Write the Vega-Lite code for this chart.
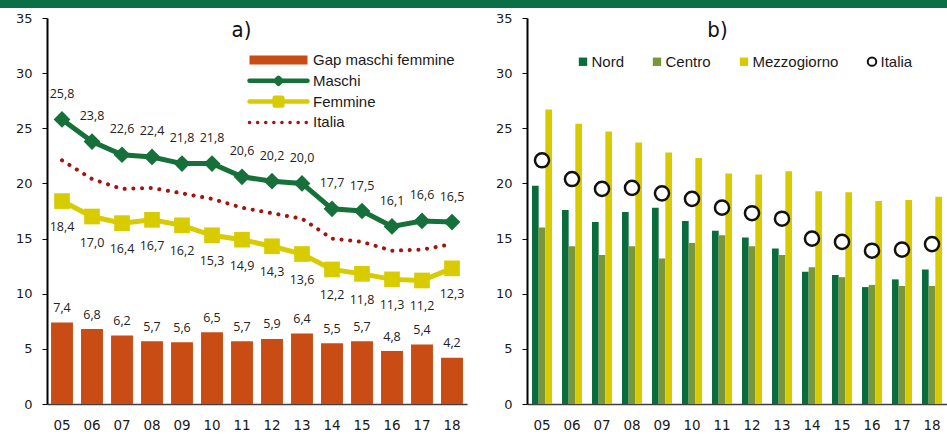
{
  "$schema": "https://vega.github.io/schema/vega-lite/v6.json",
  "padding": 0,
  "background": "white",
  "spacing": 4,
  "columns": 1,
  "align": "none",
  "config": {
    "view": {"stroke": null},
    "locale": {"number": {"decimal": ",", "thousands": ".", "grouping": [3], "currency": ["", " €"]}},
    "axisY": {"domain": true, "domainColor": "#000", "domainWidth": 2, "ticks": true, "tickColor": "#000", "tickSize": 5, "tickWidth": 1, "labelPadding": 10, "labelFont": "DejaVu Sans", "labelFontSize": 13, "labelColor": "#1a1a1a", "grid": false, "minExtent": 47, "values": [0, 5, 10, 15, 20, 25, 30, 35], "titleAngle": 0, "titleAlign": "center", "titleBaseline": "alphabetic", "titleFont": "Liberation Sans Narrow, DejaVu Sans Condensed, sans-serif", "titleFontSize": 22, "titleFontWeight": "normal", "titleColor": "#111", "titleY": 18},
    "axisX": {"domain": true, "domainColor": "#404040", "domainWidth": 1.5, "ticks": false, "tickSize": 0, "labelPadding": 14, "labelFont": "DejaVu Sans", "labelFontSize": 13.5, "labelColor": "#1a1a1a", "labelAngle": 0, "grid": false, "title": null}
  },
  "datasets": {
    "a": [
      {"anno": "05", "serie": "Gap maschi femmine", "valore": 7.4},
      {"anno": "06", "serie": "Gap maschi femmine", "valore": 6.8},
      {"anno": "07", "serie": "Gap maschi femmine", "valore": 6.2},
      {"anno": "08", "serie": "Gap maschi femmine", "valore": 5.7},
      {"anno": "09", "serie": "Gap maschi femmine", "valore": 5.6},
      {"anno": "10", "serie": "Gap maschi femmine", "valore": 6.5},
      {"anno": "11", "serie": "Gap maschi femmine", "valore": 5.7},
      {"anno": "12", "serie": "Gap maschi femmine", "valore": 5.9},
      {"anno": "13", "serie": "Gap maschi femmine", "valore": 6.4},
      {"anno": "14", "serie": "Gap maschi femmine", "valore": 5.5},
      {"anno": "15", "serie": "Gap maschi femmine", "valore": 5.7},
      {"anno": "16", "serie": "Gap maschi femmine", "valore": 4.8},
      {"anno": "17", "serie": "Gap maschi femmine", "valore": 5.4},
      {"anno": "18", "serie": "Gap maschi femmine", "valore": 4.2},
      {"anno": "05", "serie": "Maschi", "valore": 25.8},
      {"anno": "06", "serie": "Maschi", "valore": 23.8},
      {"anno": "07", "serie": "Maschi", "valore": 22.6},
      {"anno": "08", "serie": "Maschi", "valore": 22.4},
      {"anno": "09", "serie": "Maschi", "valore": 21.8},
      {"anno": "10", "serie": "Maschi", "valore": 21.8},
      {"anno": "11", "serie": "Maschi", "valore": 20.6},
      {"anno": "12", "serie": "Maschi", "valore": 20.2},
      {"anno": "13", "serie": "Maschi", "valore": 20.0},
      {"anno": "14", "serie": "Maschi", "valore": 17.7},
      {"anno": "15", "serie": "Maschi", "valore": 17.5},
      {"anno": "16", "serie": "Maschi", "valore": 16.1},
      {"anno": "17", "serie": "Maschi", "valore": 16.6},
      {"anno": "18", "serie": "Maschi", "valore": 16.5},
      {"anno": "05", "serie": "Femmine", "valore": 18.4},
      {"anno": "06", "serie": "Femmine", "valore": 17.0},
      {"anno": "07", "serie": "Femmine", "valore": 16.4},
      {"anno": "08", "serie": "Femmine", "valore": 16.7},
      {"anno": "09", "serie": "Femmine", "valore": 16.2},
      {"anno": "10", "serie": "Femmine", "valore": 15.3},
      {"anno": "11", "serie": "Femmine", "valore": 14.9},
      {"anno": "12", "serie": "Femmine", "valore": 14.3},
      {"anno": "13", "serie": "Femmine", "valore": 13.6},
      {"anno": "14", "serie": "Femmine", "valore": 12.2},
      {"anno": "15", "serie": "Femmine", "valore": 11.8},
      {"anno": "16", "serie": "Femmine", "valore": 11.3},
      {"anno": "17", "serie": "Femmine", "valore": 11.2},
      {"anno": "18", "serie": "Femmine", "valore": 12.3},
      {"anno": "05", "serie": "Italia", "valore": 22.1},
      {"anno": "06", "serie": "Italia", "valore": 20.4},
      {"anno": "07", "serie": "Italia", "valore": 19.5},
      {"anno": "08", "serie": "Italia", "valore": 19.6},
      {"anno": "09", "serie": "Italia", "valore": 19.1},
      {"anno": "10", "serie": "Italia", "valore": 18.6},
      {"anno": "11", "serie": "Italia", "valore": 17.8},
      {"anno": "12", "serie": "Italia", "valore": 17.3},
      {"anno": "13", "serie": "Italia", "valore": 16.8},
      {"anno": "14", "serie": "Italia", "valore": 15.0},
      {"anno": "15", "serie": "Italia", "valore": 14.7},
      {"anno": "16", "serie": "Italia", "valore": 13.9},
      {"anno": "17", "serie": "Italia", "valore": 14.0},
      {"anno": "18", "serie": "Italia", "valore": 14.5}
    ],
    "b": [
      {"anno": "05", "area": "Nord", "valore": 19.8},
      {"anno": "06", "area": "Nord", "valore": 17.6},
      {"anno": "07", "area": "Nord", "valore": 16.5},
      {"anno": "08", "area": "Nord", "valore": 17.4},
      {"anno": "09", "area": "Nord", "valore": 17.8},
      {"anno": "10", "area": "Nord", "valore": 16.6},
      {"anno": "11", "area": "Nord", "valore": 15.7},
      {"anno": "12", "area": "Nord", "valore": 15.1},
      {"anno": "13", "area": "Nord", "valore": 14.1},
      {"anno": "14", "area": "Nord", "valore": 12.0},
      {"anno": "15", "area": "Nord", "valore": 11.7},
      {"anno": "16", "area": "Nord", "valore": 10.6},
      {"anno": "17", "area": "Nord", "valore": 11.3},
      {"anno": "18", "area": "Nord", "valore": 12.2},
      {"anno": "05", "area": "Centro", "valore": 16.0},
      {"anno": "06", "area": "Centro", "valore": 14.3},
      {"anno": "07", "area": "Centro", "valore": 13.5},
      {"anno": "08", "area": "Centro", "valore": 14.3},
      {"anno": "09", "area": "Centro", "valore": 13.2},
      {"anno": "10", "area": "Centro", "valore": 14.6},
      {"anno": "11", "area": "Centro", "valore": 15.3},
      {"anno": "12", "area": "Centro", "valore": 14.3},
      {"anno": "13", "area": "Centro", "valore": 13.5},
      {"anno": "14", "area": "Centro", "valore": 12.4},
      {"anno": "15", "area": "Centro", "valore": 11.5},
      {"anno": "16", "area": "Centro", "valore": 10.8},
      {"anno": "17", "area": "Centro", "valore": 10.7},
      {"anno": "18", "area": "Centro", "valore": 10.7},
      {"anno": "05", "area": "Mezzogiorno", "valore": 26.7},
      {"anno": "06", "area": "Mezzogiorno", "valore": 25.4},
      {"anno": "07", "area": "Mezzogiorno", "valore": 24.7},
      {"anno": "08", "area": "Mezzogiorno", "valore": 23.7},
      {"anno": "09", "area": "Mezzogiorno", "valore": 22.8},
      {"anno": "10", "area": "Mezzogiorno", "valore": 22.3},
      {"anno": "11", "area": "Mezzogiorno", "valore": 20.9},
      {"anno": "12", "area": "Mezzogiorno", "valore": 20.8},
      {"anno": "13", "area": "Mezzogiorno", "valore": 21.1},
      {"anno": "14", "area": "Mezzogiorno", "valore": 19.3},
      {"anno": "15", "area": "Mezzogiorno", "valore": 19.2},
      {"anno": "16", "area": "Mezzogiorno", "valore": 18.4},
      {"anno": "17", "area": "Mezzogiorno", "valore": 18.5},
      {"anno": "18", "area": "Mezzogiorno", "valore": 18.8},
      {"anno": "05", "area": "Italia", "valore": 22.1},
      {"anno": "06", "area": "Italia", "valore": 20.4},
      {"anno": "07", "area": "Italia", "valore": 19.5},
      {"anno": "08", "area": "Italia", "valore": 19.6},
      {"anno": "09", "area": "Italia", "valore": 19.1},
      {"anno": "10", "area": "Italia", "valore": 18.6},
      {"anno": "11", "area": "Italia", "valore": 17.8},
      {"anno": "12", "area": "Italia", "valore": 17.3},
      {"anno": "13", "area": "Italia", "valore": 16.8},
      {"anno": "14", "area": "Italia", "valore": 15.0},
      {"anno": "15", "area": "Italia", "valore": 14.7},
      {"anno": "16", "area": "Italia", "valore": 13.9},
      {"anno": "17", "area": "Italia", "valore": 14.0},
      {"anno": "18", "area": "Italia", "valore": 14.5}
    ],
    "header": [{"t": ""}]
  },
  "concat": [
    {
      "width": 900,
      "height": 8,
      "data": {"name": "header"},
      "mark": {"type": "rect", "color": "#0b6e44"},
      "encoding": {
        "x": {"datum": -47, "type": "quantitative", "scale": {"domain": [0, 900]}, "axis": null},
        "x2": {"datum": 900}
      }
    },
    {
      "hconcat": [
        {
          "width": 420,
          "height": 386,
          "data": {"name": "a"},
          "encoding": {
            "x": {"field": "anno", "type": "ordinal", "scale": {"paddingInner": 0.27, "paddingOuter": 0.135}},
            "y": {"field": "valore", "type": "quantitative", "scale": {"domain": [0, 35], "nice": false}, "axis": {"title": "a)", "titleX": 194}}
          },
          "layer": [
            {
              "transform": [{"filter": "datum.serie == 'Gap maschi femmine'"}],
              "mark": {"type": "bar", "opacity": 1},
              "encoding": {
                "color": {
                  "field": "serie", "type": "nominal",
                  "scale": {"domain": ["Gap maschi femmine", "Maschi", "Femmine", "Italia"], "range": ["#c84c14", "#157039", "#d8cb00", "#a3140f"]},
                  "legend": {
                    "orient": "none", "legendX": 224, "legendY": 34.5, "title": null,
                    "symbolSize": 400, "symbolStrokeWidth": 0, "labelOffset": 27, "rowPadding": 4.8,
                    "labelFont": "Liberation Sans", "labelFontSize": 15, "labelColor": "#1a1a1a", "labelLimit": 300,
                    "encoding": {
                      "symbols": {
                        "shape": {"value": {"expr": "datum.value == 'Gap maschi femmine' ? 'M-2.9,-0.45H2.9V0.45H-2.9Z' : datum.value == 'Maschi' ? 'M-2.9,0H2.9M0,-0.3L0.3,0L0,0.3L-0.3,0Z' : datum.value == 'Femmine' ? 'M-2.9,0H2.9M-0.38,-0.38H0.38V0.38H-0.38Z' : 'M-2.9,0H2.9'"}},
                        "strokeWidth": {"value": {"expr": "datum.value == 'Gap maschi femmine' ? 0 : datum.value == 'Italia' ? 3.5 : 4.5"}},
                        "strokeDash": {"value": {"expr": "datum.value == 'Italia' ? [0.1, 8] : [1, 0]"}},
                        "strokeCap": {"value": "round"},
                        "strokeJoin": {"value": "round"},
                        "opacity": {"value": 1}
                      }
                    }
                  }
                }
              }
            },
            {
              "transform": [{"filter": "datum.serie == 'Gap maschi femmine'"}],
              "mark": {"type": "text", "dy": -10.5, "baseline": "alphabetic", "font": "Open Sans", "fontSize": 12.5, "color": "#222"},
              "encoding": {"text": {"field": "valore", "type": "quantitative", "format": ".1f"}}
            },
            {
              "transform": [{"filter": "datum.serie == 'Italia'"}],
              "mark": {"type": "line", "strokeWidth": 4, "strokeDash": [0.1, 8.6], "strokeCap": "round"},
              "encoding": {"color": {"field": "serie", "type": "nominal"}}
            },
            {
              "transform": [{"filter": "datum.serie == 'Maschi' || datum.serie == 'Femmine'"}],
              "mark": {"type": "line", "strokeWidth": 5},
              "encoding": {"color": {"field": "serie", "type": "nominal"}}
            },
            {
              "transform": [{"filter": "datum.serie == 'Maschi'"}],
              "mark": {"type": "point", "shape": "diamond", "filled": true, "size": 280, "opacity": 1},
              "encoding": {"color": {"field": "serie", "type": "nominal"}}
            },
            {
              "transform": [{"filter": "datum.serie == 'Femmine'"}],
              "mark": {"type": "point", "shape": "square", "filled": true, "size": 246, "opacity": 1},
              "encoding": {"color": {"field": "serie", "type": "nominal"}}
            },
            {
              "transform": [{"filter": "datum.serie == 'Maschi'"}],
              "mark": {"type": "text", "dy": -21.5, "baseline": "alphabetic", "font": "Open Sans", "fontSize": 12.5, "color": "#222"},
              "encoding": {"text": {"field": "valore", "type": "quantitative", "format": ".1f"}}
            },
            {
              "transform": [{"filter": "datum.serie == 'Femmine'"}],
              "mark": {"type": "text", "dy": 30, "baseline": "alphabetic", "font": "Open Sans", "fontSize": 12.5, "color": "#222"},
              "encoding": {"text": {"field": "valore", "type": "quantitative", "format": ".1f"}}
            }
          ]
        },
        {
          "width": 420,
          "height": 386,
          "data": {"name": "b"},
          "encoding": {
            "x": {"field": "anno", "type": "ordinal", "scale": {"paddingInner": 0.333, "paddingOuter": 0.1667}},
            "y": {"field": "valore", "type": "quantitative", "scale": {"domain": [0, 35], "nice": false}, "axis": {"title": "b)", "titleX": 190}}
          },
          "layer": [
            {
              "transform": [{"filter": "datum.area != 'Italia'"}],
              "mark": {"type": "bar", "opacity": 1},
              "encoding": {
                "xOffset": {"field": "area", "type": "nominal", "sort": ["Nord", "Centro", "Mezzogiorno"], "scale": {"paddingInner": 0, "paddingOuter": 0}},
                "color": {
                  "field": "area", "type": "nominal",
                  "scale": {"domain": ["Nord", "Centro", "Mezzogiorno", "Italia"], "range": ["#0a6b3c", "#7a963a", "#d8ca00", "#111111"]},
                  "legend": {
                    "orient": "none", "direction": "horizontal", "legendX": 48.5, "legendY": 36, "title": null,
                    "symbolSize": 70, "symbolStrokeWidth": 0, "labelOffset": 1, "columnPadding": 25,
                    "labelFont": "Liberation Sans", "labelFontSize": 15, "labelColor": "#1a1a1a", "labelLimit": 300,
                    "encoding": {
                      "symbols": {
                        "shape": {"value": {"expr": "datum.value == 'Italia' ? 'circle' : 'square'"}},
                        "size": {"value": {"expr": "datum.value == 'Italia' ? 72 : 70"}},
                        "fillOpacity": {"value": {"expr": "datum.value == 'Italia' ? 0 : 1"}},
                        "stroke": {"value": "#111111"},
                        "strokeOpacity": {"value": {"expr": "datum.value == 'Italia' ? 1 : 0"}},
                        "strokeWidth": {"value": {"expr": "datum.value == 'Italia' ? 2 : 0"}},
                        "opacity": {"value": 1}
                      }
                    }
                  }
                }
              }
            },
            {
              "transform": [{"filter": "datum.area == 'Italia'"}],
              "mark": {"type": "point", "shape": "circle", "filled": true, "fill": "white", "stroke": "#111", "strokeWidth": 2.5, "size": 200, "opacity": 1}
            }
          ]
        }
      ],
      "spacing": 13,
      "resolve": {"scale": {"color": "independent", "x": "independent", "y": "independent"}, "legend": {"color": "independent"}}
    }
  ]
}
